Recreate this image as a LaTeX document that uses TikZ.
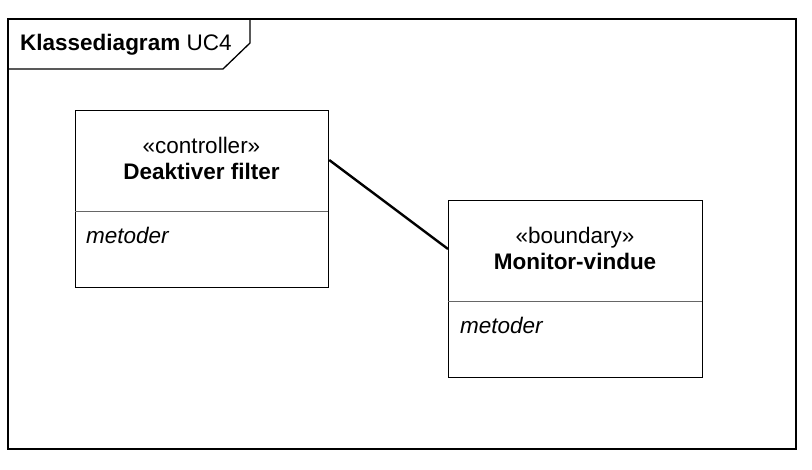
\documentclass[tikz,border=0pt]{standalone}
\usepackage{fontspec}
\setmainfont{Liberation Sans}
\begin{document}
\begin{tikzpicture}[x=1pt,y=-1pt,
  frameline/.style={draw=black,line width=1.3pt},
  classbox/.style={draw=black,line width=1.2pt,rectangle,anchor=north west,inner sep=0pt},
  divider/.style={draw=black!60,line width=0.9pt},
  txt/.style={inner sep=0pt,anchor=base,font=\fontsize{22.5}{27}\selectfont},
  txtl/.style={inner sep=0pt,anchor=base west,font=\fontsize{22.5}{27}\selectfont\itshape},
  assoc/.style={draw=black,line width=2.4pt}]
\useasboundingbox (0,0) rectangle (812,470);
% frame
\draw[frameline] (8,19) rectangle (796,449);
\draw[frameline] (8,69) -- (223,69) -- (250,43) -- (250,19);
\node[inner sep=0pt,anchor=base west,font=\fontsize{22.5}{27}\selectfont] (title) at (20,51) {\textbf{Klassediagram} UC4};
% class 1
\node[classbox,minimum width=253pt,minimum height=177pt] (c1) at (75,110) {};
\draw[divider] (75,211) -- (328,211);
\node[txt] (c1s) at (201.5,153.5) {«controller»};
\node[txt,font=\fontsize{22.5}{27}\selectfont\bfseries] (c1n) at (201.5,180) {Deaktiver filter};
\node[txtl] (c1m) at (86,244) {metoder};
% class 2
\node[classbox,minimum width=254pt,minimum height=177pt] (c2) at (448,200) {};
\draw[divider] (448,301) -- (702,301);
\node[txt] (c2s) at (575,243.5) {«boundary»};
\node[txt,font=\fontsize{22.5}{27}\selectfont\bfseries] (c2n) at (575,270) {Monitor-vindue};
\node[txtl] (c2m) at (460,334) {metoder};
% association
\coordinate (p1) at ([yshift=-50pt]c1.north east);
\coordinate (p2) at ([yshift=-49pt]c2.north west);
\draw[assoc] (p1) -- (p2);
\end{tikzpicture}
\end{document}
